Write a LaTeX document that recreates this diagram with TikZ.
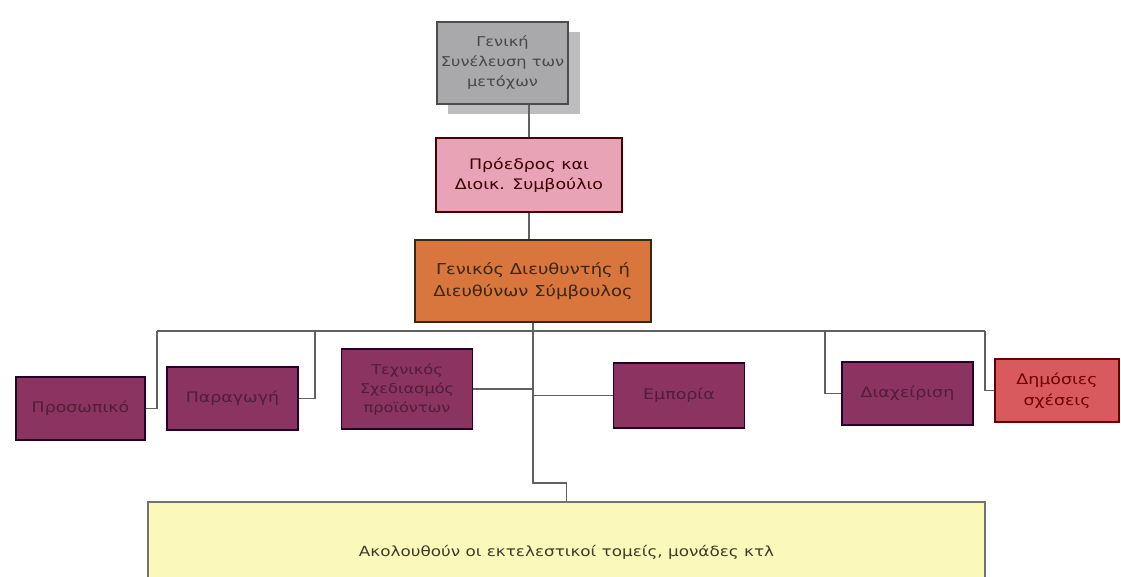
\documentclass[tikz,border=0pt]{standalone}
\usepackage{fontspec}
\setmainfont{DejaVu Sans}[FakeStretch=1.2]
\begin{document}
\begin{tikzpicture}[x=1pt,y=-1pt,
  conn/.style={draw=black!62, line width=1.3pt},
  box/.style={draw=#1, line width=1.6pt, align=center, inner sep=2pt,
    font=\fontsize{14.5}{20.5}\selectfont},
  dept/.style={box=black!70!violet, fill=deptc, text=depttxt, minimum width=131pt, minimum height=63pt}
]
\definecolor{grayc}{HTML}{A9A9AC}
\definecolor{shadowc}{HTML}{BDBDBD}
\definecolor{pinkc}{HTML}{E9A3B6}
\definecolor{orangec}{HTML}{D8763E}
\definecolor{deptc}{HTML}{8B3461}
\definecolor{depttxt}{HTML}{4F1E38}
\definecolor{redc}{HTML}{D95A5E}
\definecolor{yellowc}{HTML}{FBF9BA}
\useasboundingbox (0,0) rectangle (1121,576);
\clip (0,0) rectangle (1121,576);

% shadow of top box
\fill[shadowc] (448,32) rectangle (580,114);
\node[box=black!70, fill=grayc, text=black!72, minimum width=131pt, minimum height=82pt, font=\fontsize{13.5}{20}\selectfont] (gen) at (502.5,63) {Γενική\\Συνέλευση των\\μετόχων};
\node[box=black!55!red!60!black, fill=pinkc, text=black!60!red!55!black, minimum width=186pt, minimum height=74pt] (pres) at (529,175) {Πρόεδρος και\\Διοικ. Συμβούλιο};
\node[box=black!70!brown, fill=orangec, text=black!70!brown, minimum width=236pt, minimum height=82pt, font=\fontsize{15}{22}\selectfont] (gm) at (533,281) {Γενικός Διευθυντής ή\\Διευθύνων Σύμβουλος};

\node[dept, minimum width=129pt] (pros) at (80.5,408.5) {Προσωπικό};
\node[dept] (parag) at (232.5,398.5) {Παραγωγή};
\node[dept, minimum height=80pt, font=\fontsize{13.5}{19}\selectfont] (tech) at (407,389) {Τεχνικός\\Σχεδιασμός\\προϊόντων};
\node[dept, minimum height=65pt] (emp) at (679,395.5) {Εμπορία};
\node[dept] (diax) at (907.5,393.5) {Διαχείριση};
\node[box=black!60!red, fill=redc, text=black!45!red!80!black, minimum width=124pt, minimum height=63pt] (dim) at (1057,390.5) {Δημόσιες\\σχέσεις};

\node[box=black!55, line width=1.3pt, fill=yellowc, text=black!75!olive, minimum width=837pt, minimum height=100pt, font=\fontsize{14}{16}\selectfont] (yel) at (566.5,552) {Ακολουθούν οι εκτελεστικοί τομείς, μονάδες κτλ};

% connectors
\coordinate (busL) at (157,331);
\coordinate (busP) at (315,331);
\coordinate (busD) at (825,331);
\coordinate (busR) at (985,331);
\coordinate (jog) at (533,483);

\draw[conn] (pres.north) -- (pres.north |- gen.south);
\draw[conn] (pres.south) -- (pres.south |- gm.north);
\draw[conn] (gm.south) -- (jog) -| (yel.north);
\draw[conn] (busL) -- (busR);
\draw[conn] (busL) |- (pros.east);
\draw[conn] (busP) |- (parag.east);
\draw[conn] (tech.east) -- (tech.east -| gm.south);
\draw[conn] (emp.west) -- (emp.west -| gm.south);
\draw[conn] (busD) |- (diax.west);
\draw[conn] (busR) |- (dim.west);
\end{tikzpicture}
\end{document}
